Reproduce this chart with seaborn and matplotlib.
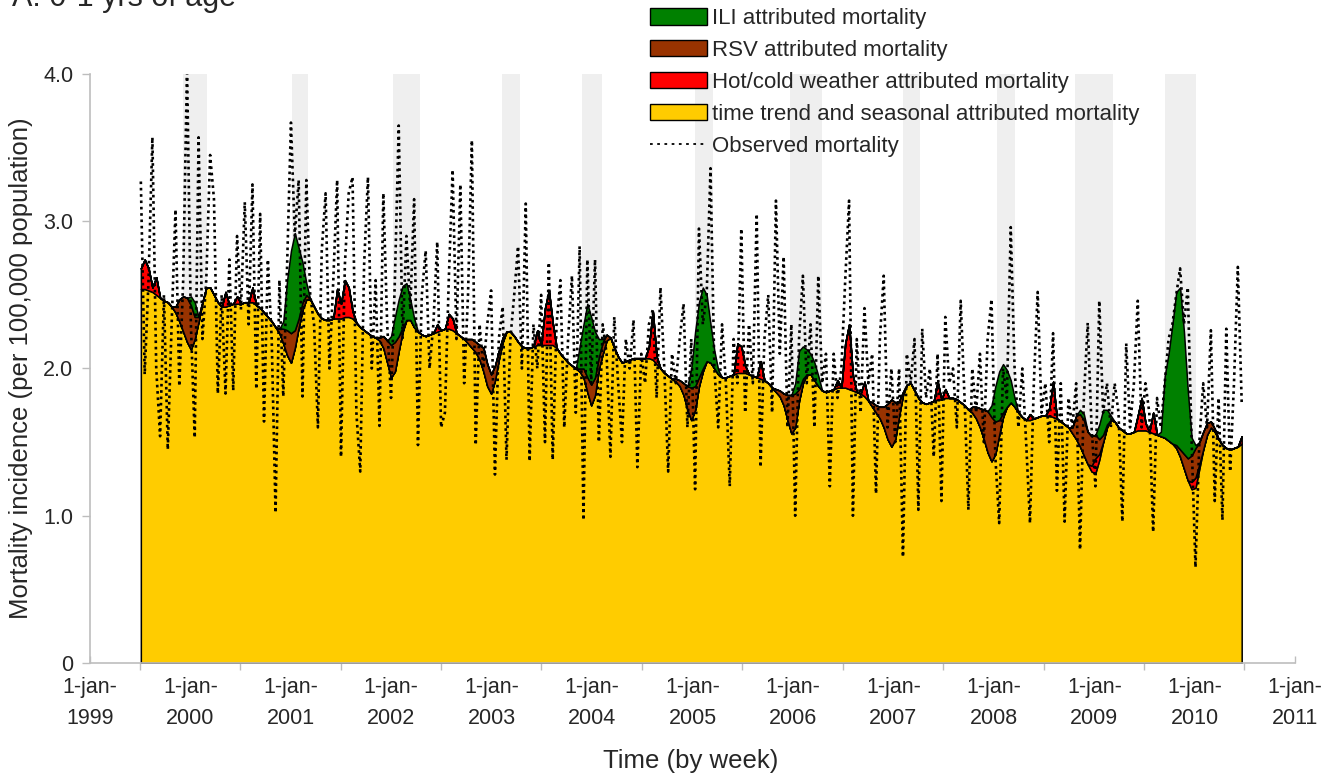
import numpy as np
import pandas as pd
import matplotlib
matplotlib.use("Agg")
import matplotlib.pyplot as plt
import matplotlib.dates as mdates
from matplotlib.patches import Patch
from matplotlib.lines import Line2D
import seaborn as sns

# ---------------- data (biweekly, July 1999 - June 2010) ----------------
start_date = "1999-07-05"
step = "14D"

trend = [
    2.54, 2.54, 2.53, 2.52, 2.50, 2.48, 2.46, 2.45, 2.42, 2.38, 2.32, 2.25, 2.18, 2.13, 2.20, 2.32, 2.45, 2.55, 2.55, 2.50, 2.45, 2.42, 2.42, 2.43, 2.44, 2.44,
    2.44, 2.45, 2.45, 2.45, 2.43, 2.41, 2.38, 2.35, 2.32, 2.28, 2.24, 2.17, 2.09, 2.04, 2.14, 2.28, 2.40, 2.47, 2.47, 2.42, 2.37, 2.34, 2.33, 2.33, 2.34, 2.34,
    2.34, 2.35, 2.35, 2.34, 2.31, 2.28, 2.26, 2.24, 2.22, 2.21, 2.19, 2.14, 2.04, 1.94, 1.98, 2.12, 2.25, 2.33, 2.33, 2.28, 2.25, 2.23, 2.22, 2.23, 2.24, 2.25,
    2.26, 2.27, 2.27, 2.26, 2.24, 2.22, 2.20, 2.17, 2.14, 2.11, 2.06, 1.98, 1.88, 1.83, 1.92, 2.06, 2.18, 2.25, 2.25, 2.22, 2.18, 2.15, 2.14, 2.14, 2.15, 2.16,
    2.16, 2.16, 2.16, 2.16, 2.14, 2.10, 2.07, 2.04, 2.02, 2.00, 1.98, 1.94, 1.84, 1.75, 1.82, 2.00, 2.10, 2.19, 2.21, 2.14, 2.08, 2.04, 2.05, 2.06, 2.07, 2.07,
    2.07, 2.07, 2.07, 2.06, 2.03, 2.00, 1.97, 1.95, 1.93, 1.91, 1.88, 1.82, 1.72, 1.65, 1.72, 1.88, 1.98, 2.05, 2.04, 2.00, 1.96, 1.94, 1.94, 1.95, 1.96, 1.97,
    1.97, 1.97, 1.96, 1.95, 1.94, 1.93, 1.92, 1.90, 1.87, 1.84, 1.81, 1.75, 1.65, 1.56, 1.60, 1.78, 1.90, 1.96, 1.96, 1.92, 1.88, 1.85, 1.84, 1.85, 1.86, 1.87,
    1.87, 1.87, 1.86, 1.85, 1.84, 1.83, 1.81, 1.78, 1.74, 1.70, 1.66, 1.60, 1.52, 1.47, 1.52, 1.68, 1.82, 1.89, 1.90, 1.85, 1.80, 1.77, 1.76, 1.77, 1.78, 1.79,
    1.79, 1.80, 1.80, 1.80, 1.79, 1.77, 1.75, 1.72, 1.70, 1.66, 1.60, 1.52, 1.43, 1.37, 1.42, 1.55, 1.67, 1.74, 1.77, 1.74, 1.70, 1.67, 1.65, 1.65, 1.66, 1.67,
    1.68, 1.68, 1.68, 1.67, 1.66, 1.64, 1.62, 1.60, 1.56, 1.52, 1.47, 1.41, 1.35, 1.30, 1.29, 1.38, 1.50, 1.60, 1.65, 1.64, 1.60, 1.58, 1.56, 1.56, 1.57, 1.58,
    1.58, 1.58, 1.57, 1.56, 1.55, 1.54, 1.53, 1.51, 1.49, 1.46, 1.40, 1.32, 1.24, 1.18, 1.19, 1.32, 1.45, 1.55, 1.60, 1.57, 1.52, 1.48, 1.46, 1.45, 1.46, 1.47, 1.49,
]

heat = [
    0.14, 0.20, 0.15, 0.03, 0.12, 0, 0, 0, 0, 0, 0, 0, 0, 0, 0, 0, 0, 0, 0, 0, 0, 0, 0.10, 0, 0, 0.05,
    0, 0, 0, 0.10, 0, 0, 0, 0, 0, 0, 0, 0, 0, 0, 0, 0, 0, 0, 0, 0, 0, 0, 0, 0, 0, 0.20,
    0.10, 0.25, 0.20, 0.05, 0, 0, 0, 0, 0, 0, 0, 0, 0, 0, 0, 0, 0, 0, 0, 0, 0, 0, 0, 0, 0, 0.05,
    0, 0, 0.10, 0.08, 0, 0, 0, 0, 0, 0, 0, 0, 0, 0, 0, 0, 0, 0, 0, 0, 0, 0, 0, 0, 0, 0.10,
    0, 0.25, 0.37, 0.15, 0, 0, 0, 0, 0, 0, 0, 0, 0, 0, 0, 0, 0, 0, 0, 0, 0, 0, 0, 0, 0, 0,
    0, 0, 0.08, 0.33, 0.05, 0, 0, 0, 0, 0, 0, 0, 0, 0, 0, 0, 0, 0, 0, 0, 0, 0, 0, 0, 0, 0.20,
    0.18, 0.05, 0, 0, 0, 0.12, 0, 0, 0, 0, 0, 0, 0, 0, 0, 0, 0, 0, 0, 0, 0, 0, 0, 0, 0, 0.05,
    0, 0.30, 0.44, 0.10, 0, 0, 0.10, 0, 0, 0, 0, 0, 0, 0, 0, 0, 0, 0, 0, 0, 0, 0, 0, 0, 0, 0.12,
    0, 0.06, 0, 0, 0, 0, 0, 0, 0, 0, 0, 0, 0, 0, 0, 0, 0, 0, 0, 0, 0, 0, 0, 0.04, 0, 0,
    0, 0, 0.05, 0.24, 0, 0, 0, 0, 0, 0, 0, 0, 0, 0.04, 0.10, 0.04, 0, 0, 0, 0, 0, 0, 0, 0, 0, 0.10,
    0.22, 0.05, 0, 0.14, 0, 0, 0, 0, 0, 0, 0, 0, 0, 0.05, 0.07, 0.03, 0, 0, 0, 0, 0, 0, 0, 0, 0, 0, 0.05,
]

rsv = [
    0, 0, 0, 0, 0, 0, 0, 0, 0, 0.04, 0.15, 0.24, 0.30, 0.30, 0.15, 0.03, 0, 0, 0, 0, 0, 0, 0, 0, 0, 0,
    0, 0, 0, 0, 0, 0, 0, 0, 0, 0, 0.03, 0.10, 0.17, 0.20, 0.12, 0.06, 0.05, 0.03, 0, 0, 0, 0, 0, 0, 0, 0,
    0, 0, 0, 0, 0, 0, 0, 0, 0, 0, 0.02, 0.08, 0.15, 0.22, 0.20, 0.10, 0.03, 0, 0, 0, 0, 0, 0, 0, 0, 0,
    0, 0, 0, 0, 0, 0, 0, 0.03, 0.06, 0.07, 0.10, 0.16, 0.15, 0.13, 0.10, 0.06, 0.03, 0, 0, 0, 0, 0, 0, 0, 0, 0,
    0, 0, 0, 0, 0, 0, 0, 0, 0, 0, 0.02, 0.06, 0.10, 0.14, 0.12, 0.08, 0.08, 0.04, 0, 0, 0, 0, 0, 0, 0, 0,
    0, 0, 0, 0, 0, 0, 0, 0, 0, 0.02, 0.04, 0.08, 0.16, 0.22, 0.16, 0.06, 0.02, 0, 0, 0, 0, 0, 0, 0, 0, 0,
    0, 0, 0, 0, 0, 0, 0, 0, 0, 0.02, 0.04, 0.08, 0.17, 0.26, 0.23, 0.08, 0.03, 0, 0, 0, 0, 0, 0, 0, 0, 0,
    0, 0, 0, 0, 0, 0, 0, 0, 0.03, 0.05, 0.08, 0.14, 0.24, 0.32, 0.25, 0.10, 0.02, 0, 0, 0, 0, 0, 0, 0, 0, 0,
    0, 0, 0, 0, 0, 0, 0, 0, 0.04, 0.08, 0.13, 0.20, 0.28, 0.30, 0.22, 0.10, 0.03, 0, 0, 0, 0, 0, 0, 0, 0, 0,
    0, 0, 0, 0, 0, 0, 0, 0, 0.04, 0.16, 0.22, 0.24, 0.22, 0.20, 0.16, 0.10, 0.05, 0.02, 0, 0, 0, 0, 0, 0, 0, 0,
    0, 0, 0, 0, 0, 0, 0, 0, 0, 0.02, 0.05, 0.10, 0.15, 0.18, 0.20, 0.15, 0.12, 0.08, 0.04, 0.02, 0, 0, 0, 0, 0, 0, 0,
]

ili = [
    0, 0, 0, 0, 0, 0, 0, 0, 0, 0, 0, 0, 0, 0.06, 0.10, 0, 0, 0, 0, 0, 0, 0, 0, 0, 0, 0,
    0, 0, 0, 0, 0, 0, 0, 0, 0, 0, 0, 0.05, 0.34, 0.56, 0.66, 0.48, 0.27, 0.08, 0, 0, 0, 0, 0, 0, 0, 0,
    0, 0, 0, 0, 0, 0, 0, 0, 0, 0, 0, 0, 0, 0.06, 0.17, 0.25, 0.28, 0.25, 0.14, 0.06, 0, 0, 0, 0, 0, 0,
    0, 0, 0, 0, 0, 0, 0, 0, 0, 0, 0, 0, 0, 0, 0, 0, 0, 0, 0, 0, 0, 0, 0, 0, 0, 0,
    0, 0, 0, 0, 0, 0, 0, 0, 0, 0, 0.15, 0.30, 0.50, 0.46, 0.31, 0.12, 0.02, 0, 0, 0, 0, 0, 0, 0, 0, 0,
    0, 0, 0, 0, 0, 0, 0, 0, 0, 0, 0, 0, 0, 0.13, 0.37, 0.51, 0.55, 0.45, 0.26, 0.12, 0.03, 0, 0, 0, 0, 0,
    0, 0, 0, 0, 0, 0, 0, 0, 0, 0, 0, 0, 0, 0, 0.07, 0.26, 0.22, 0.17, 0.14, 0.12, 0.07, 0, 0, 0, 0, 0,
    0, 0, 0, 0, 0, 0, 0, 0, 0, 0, 0, 0, 0, 0, 0, 0, 0, 0, 0, 0, 0, 0, 0, 0, 0, 0,
    0, 0, 0, 0, 0, 0, 0, 0, 0, 0, 0, 0, 0, 0.08, 0.24, 0.33, 0.33, 0.25, 0.15, 0.06, 0, 0, 0, 0, 0, 0,
    0, 0, 0, 0, 0, 0, 0, 0, 0, 0, 0.03, 0.04, 0, 0, 0, 0.10, 0.17, 0.10, 0.03, 0, 0, 0, 0, 0, 0, 0,
    0, 0, 0, 0, 0, 0.03, 0.42, 0.59, 0.81, 1.04, 1.10, 0.83, 0.46, 0.12, 0.02, 0, 0, 0, 0, 0, 0, 0, 0, 0, 0, 0, 0,
]

observed = [
    3.27, 1.96, 2.60, 3.57, 2.00, 1.54, 2.50, 1.45, 2.30, 3.08, 1.88, 2.60, 4.05, 2.30, 1.53, 3.57, 2.20, 2.60, 3.45, 3.15, 1.83, 2.50, 1.83, 2.74, 1.85, 2.90,
    2.40, 3.13, 2.30, 3.25, 1.86, 3.05, 1.64, 2.74, 2.20, 1.02, 2.60, 1.81, 2.70, 3.67, 2.90, 3.28, 1.81, 3.28, 2.50, 2.30, 1.60, 2.80, 3.19, 2.00, 2.60, 3.28,
    1.40, 2.70, 3.19, 3.30, 1.70, 1.30, 2.70, 3.30, 2.00, 2.60, 1.61, 3.19, 2.30, 1.80, 2.60, 3.65, 2.20, 2.90, 2.40, 3.15, 1.48, 2.50, 2.80, 2.00, 2.30, 2.86,
    1.60, 1.70, 2.60, 3.35, 2.20, 3.25, 1.90, 2.50, 3.55, 1.48, 2.30, 2.00, 2.30, 2.53, 1.28, 2.20, 2.42, 1.38, 2.20, 2.50, 2.83, 2.00, 3.12, 1.37, 2.30, 2.00,
    2.50, 1.50, 2.72, 1.38, 2.30, 2.60, 1.60, 2.20, 2.63, 1.70, 2.83, 0.97, 2.74, 1.90, 2.74, 1.50, 2.30, 2.10, 1.40, 2.35, 1.90, 1.50, 2.20, 2.00, 2.33, 1.33,
    2.10, 1.90, 2.30, 2.40, 1.80, 2.55, 2.00, 1.30, 2.10, 1.90, 2.20, 2.44, 1.60, 2.20, 1.18, 2.95, 2.30, 2.50, 3.36, 2.00, 1.60, 2.30, 1.90, 1.20, 2.20, 1.90,
    2.95, 1.70, 2.30, 1.90, 3.05, 1.33, 2.20, 2.50, 1.70, 3.14, 2.10, 2.76, 1.60, 2.30, 1.00, 2.20, 2.63, 1.90, 2.30, 1.60, 2.63, 1.90, 2.10, 1.20, 2.10, 1.80,
    2.00, 2.60, 3.14, 1.00, 2.20, 1.70, 2.41, 1.90, 2.10, 1.15, 2.20, 2.63, 1.60, 2.00, 1.50, 2.00, 0.72, 2.10, 1.90, 2.20, 1.04, 2.27, 1.80, 2.00, 1.40, 2.10,
    1.10, 2.35, 1.90, 2.00, 1.60, 2.46, 1.80, 1.04, 2.00, 1.70, 2.10, 1.50, 2.20, 2.47, 1.40, 0.95, 2.00, 1.80, 2.96, 2.00, 1.60, 2.00, 1.50, 0.95, 1.90, 2.52,
    1.70, 1.90, 1.50, 2.24, 1.17, 1.90, 0.96, 1.80, 1.60, 1.90, 0.77, 1.80, 2.31, 1.60, 1.20, 2.46, 1.70, 1.90, 1.60, 1.90, 1.70, 0.96, 2.17, 1.60, 1.90, 2.46,
    1.60, 1.90, 1.70, 0.89, 1.80, 1.60, 1.90, 2.20, 2.30, 2.50, 2.68, 2.30, 2.55, 1.50, 0.65, 1.50, 1.90, 1.60, 2.26, 1.10, 1.80, 0.97, 2.27, 1.30, 1.90, 2.69, 1.77,
]

# shaded (epidemic) periods
band_start = ["1999-12-04", "2001-01-05", "2002-01-07", "2003-02-08", "2003-11-24", "2005-01-10",
              "2005-12-21", "2007-02-05", "2008-01-13", "2008-10-23", "2009-09-16"]
band_end = ["2000-03-01", "2001-03-04", "2002-04-16", "2003-04-14", "2004-02-06", "2005-03-16",
            "2006-04-16", "2007-04-08", "2008-03-18", "2009-03-11", "2010-01-06"]

years = list(range(1999, 2012))
y_ticks = [0, 1, 2, 3, 4]
y_tick_labels = ["0", "1.0", "2.0", "3.0", "4.0"]
legend_labels = ["ILI attributed mortality", "RSV attributed mortality",
                 "Hot/cold weather attributed mortality",
                 "time trend and seasonal attributed mortality", "Observed mortality"]

# ---------------- styling ----------------
sns.set_theme(style="white")
plt.rcParams["font.family"] = ["Liberation Sans", "DejaVu Sans"]

c_yellow = "#FFCC00"
c_red = "#FF0000"
c_brown = "#993300"
c_green = "#008000"
c_band = "#EFEFEF"
c_axis = "#BDBDBD"

n = len(trend)
assert len(heat) == n and len(rsv) == n and len(ili) == n and len(observed) == n

dates = pd.date_range(start_date, periods=n, freq=step)
x = mdates.date2num(dates.to_pydatetime())
df = pd.DataFrame({"x": x, "observed": observed})

fig = plt.figure(figsize=(13.37, 7.78), dpi=100)
ax = fig.add_axes([0.0673, 0.1478, 0.9013, 0.7571])

for s, e in zip(band_start, band_end):
    ax.axvspan(mdates.datestr2num(s), mdates.datestr2num(e), color=c_band, lw=0, zorder=0)

ax.stackplot(x, trend, heat, rsv, ili,
             colors=[c_yellow, c_red, c_brown, c_green],
             edgecolor="black", linewidth=1.1, zorder=2)

sns.lineplot(data=df, x="x", y="observed", ax=ax, color="black",
             linestyle=(0, (1.0, 1.4)), linewidth=1.9, zorder=3)

x0 = mdates.date2num(pd.Timestamp(f"{years[0]}-01-01"))
x1 = mdates.date2num(pd.Timestamp(f"{years[-1]}-01-01"))
ax.set_xlim(x0, x1)
ax.set_ylim(0, 4.0)

major = [mdates.date2num(pd.Timestamp(f"{y}-01-01")) for y in years]
minor = [mdates.date2num(pd.Timestamp(f"{y}-07-01")) for y in years[:-1]]
ax.set_xticks(major)
ax.set_xticklabels([f"1-jan-\n{y}" for y in years], fontsize=15.5, linespacing=1.6)
ax.set_xticks(minor, minor=True)
ax.set_yticks(y_ticks)
ax.set_yticklabels(y_tick_labels, fontsize=15.5)

ax.tick_params(axis="x", which="major", direction="in", length=5, width=1,
               color=c_axis, pad=10, bottom=True)
ax.tick_params(axis="x", which="minor", direction="out", length=5, width=1,
               color=c_axis, bottom=True)
ax.tick_params(axis="y", which="major", direction="out", length=6, width=1,
               color=c_axis, pad=6, left=True)

for side in ["top", "right"]:
    ax.spines[side].set_visible(False)
for side in ["left", "bottom"]:
    ax.spines[side].set_color(c_axis)
    ax.spines[side].set_linewidth(1.2)

ax.set_xlabel("Time (by week)", fontsize=18.5)
ax.set_ylabel("Mortality incidence (per 100,000 population)", fontsize=18.5)
ax.xaxis.set_label_coords(0.4988, -0.146)
ax.yaxis.set_label_coords(-0.047, 0.5)

fig.text(0.009, 1 - 6 / 778, "A: 0-1 yrs of age", fontsize=22, va="baseline", ha="left")

handles = [
    Patch(facecolor=c_green, edgecolor="black", linewidth=1.0),
    Patch(facecolor=c_brown, edgecolor="black", linewidth=1.0),
    Patch(facecolor=c_red, edgecolor="black", linewidth=1.0),
    Patch(facecolor=c_yellow, edgecolor="black", linewidth=1.0),
    Line2D([0], [0], color="black", linestyle=(0, (1.5, 2.5)), linewidth=1.3),
]
fig.legend(handles, legend_labels, loc="upper left",
           bbox_to_anchor=(650 / 1337, 1 - 8 / 778), frameon=False,
           fontsize=16, handlelength=2.57, handleheight=0.77,
           handletextpad=0.23, labelspacing=0.49, borderpad=0, borderaxespad=0)

fig.savefig("out.png", dpi=100)
